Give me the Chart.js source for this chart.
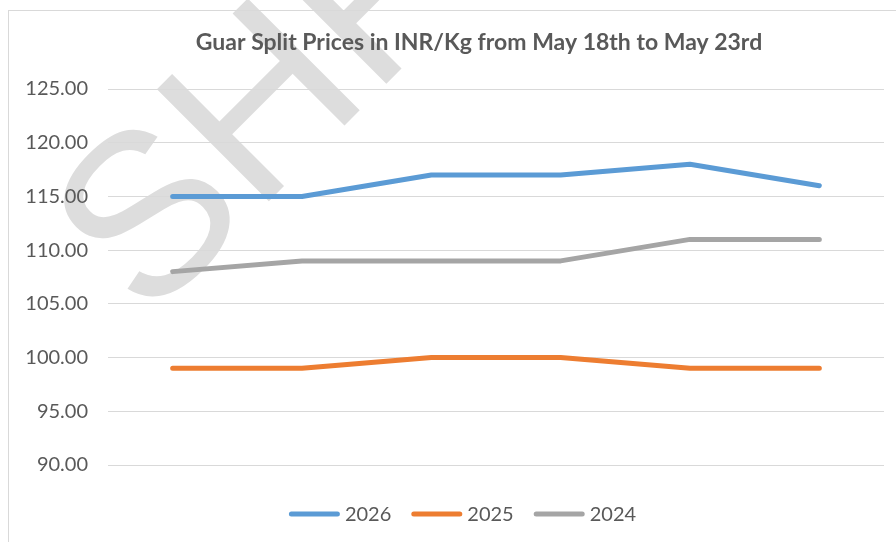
<!DOCTYPE html>
<html>
<head>
<meta charset="utf-8">
<script src="https://cdn.jsdelivr.net/npm/chart.js@4/dist/chart.umd.min.js"></script>
<style>
  html, body { margin: 0; padding: 0; background: #ffffff; }
  #wrap { width: 896px; height: 542px; position: relative; }
</style>
</head>
<body>
<div id="wrap"><canvas id="c" width="896" height="542"></canvas></div>
<script>
const titleText = "Guar Split Prices in INR/Kg from May 18th to May 23rd";
const categories = ["May 18", "May 19", "May 20", "May 21", "May 22", "May 23"];
const seriesNames = ["2026", "2025", "2024"];
const values2026 = [115, 115, 117, 117, 118, 116];
const values2025 = [99, 99, 100, 100, 99, 99];
const values2024 = [108, 109, 109, 109, 111, 111];
const yTicks = [90, 95, 100, 105, 110, 115, 120, 125];
const watermarkText = "SHFL";

const colors = ["#5B9BD5", "#ED7D31", "#A5A5A5"];
const textColor = "#595959";
const gridColor = "#d9d9d9";
const fontFamily = "Lato, 'Open Sans', sans-serif";

const frame = {
  id: "frame",
  beforeDraw(chart) {
    const ctx = chart.ctx;
    ctx.save();
    ctx.translate(147, 323);
    ctx.rotate(-Math.PI / 4);
    ctx.fillStyle = "#dddddd";
    ctx.font = "230px 'Liberation Sans', Arial, sans-serif";
    ctx.textBaseline = "alphabetic";
    ctx.textAlign = "left";
    ctx.fillText(watermarkText, 0, 0);
    ctx.restore();
    ctx.save();
    ctx.strokeStyle = gridColor;
    ctx.lineWidth = 1;
    ctx.strokeRect(8.5, 10.5, 1000, 1000);
    ctx.restore();
  },
  afterDraw(chart) {
    const ctx = chart.ctx;
    ctx.save();
    // title
    ctx.fillStyle = textColor;
    ctx.font = "bold 23px " + fontFamily;
    ctx.textAlign = "center";
    ctx.textBaseline = "middle";
    ctx.fillText(titleText, 479, 43);
    // legend
    ctx.font = "20px " + fontFamily;
    ctx.textAlign = "left";
    ctx.textBaseline = "middle";
    const lineLen = 51, gap = 5, itemGap = 20, cy = 514;
    const widths = chart.data.datasets.map(d => lineLen + gap + ctx.measureText(d.label).width);
    const total = widths.reduce((a, b) => a + b, 0) + itemGap * (widths.length - 1);
    let x = 462.5 - total / 2;
    chart.data.datasets.forEach((d, i) => {
      ctx.strokeStyle = d.borderColor;
      ctx.lineWidth = 5;
      ctx.lineCap = "round";
      ctx.beginPath();
      ctx.moveTo(x + 2.5, cy);
      ctx.lineTo(x + lineLen - 2.5, cy);
      ctx.stroke();
      ctx.fillStyle = textColor;
      ctx.fillText(d.label, x + lineLen + gap, cy + 1);
      x += widths[i] + itemGap;
    });
    ctx.restore();
  }
};

const data = {
  labels: categories,
  datasets: [values2026, values2025, values2024].map((vals, i) => ({
    label: seriesNames[i],
    data: vals,
    borderColor: colors[i],
    backgroundColor: colors[i],
    borderWidth: 5,
    borderCapStyle: "round",
    borderJoinStyle: "round",
    pointRadius: 0,
    pointHoverRadius: 0,
    tension: 0,
    fill: false
  }))
};

new Chart(document.getElementById("c"), {
  type: "line",
  data: data,
  plugins: [frame],
  options: {
    responsive: false,
    devicePixelRatio: 1,
    animation: false,
    layout: { padding: { left: 10, right: 12, top: 89, bottom: 0 } },
    scales: {
      x: {
        offset: true,
        grid: { display: false },
        border: { display: false },
        ticks: { display: false },
        afterFit: (s) => { s.height = 77; }
      },
      y: {
        min: yTicks[0],
        max: yTicks[yTicks.length - 1],
        afterBuildTicks: (s) => { s.ticks = yTicks.map(v => ({ value: v })); },
        ticks: {
          color: textColor,
          font: { family: fontFamily, size: 20 },
          padding: 20,
          callback: (v) => Number(v).toFixed(2)
        },
        grid: { color: gridColor, lineWidth: 1, drawTicks: false },
        border: { display: false },
        afterFit: (s) => { s.width = 98; }
      }
    },
    plugins: {
      title: { display: false },
      tooltip: { enabled: false },
      legend: { display: false }
    }
  }
});
</script>
</body>
</html>
